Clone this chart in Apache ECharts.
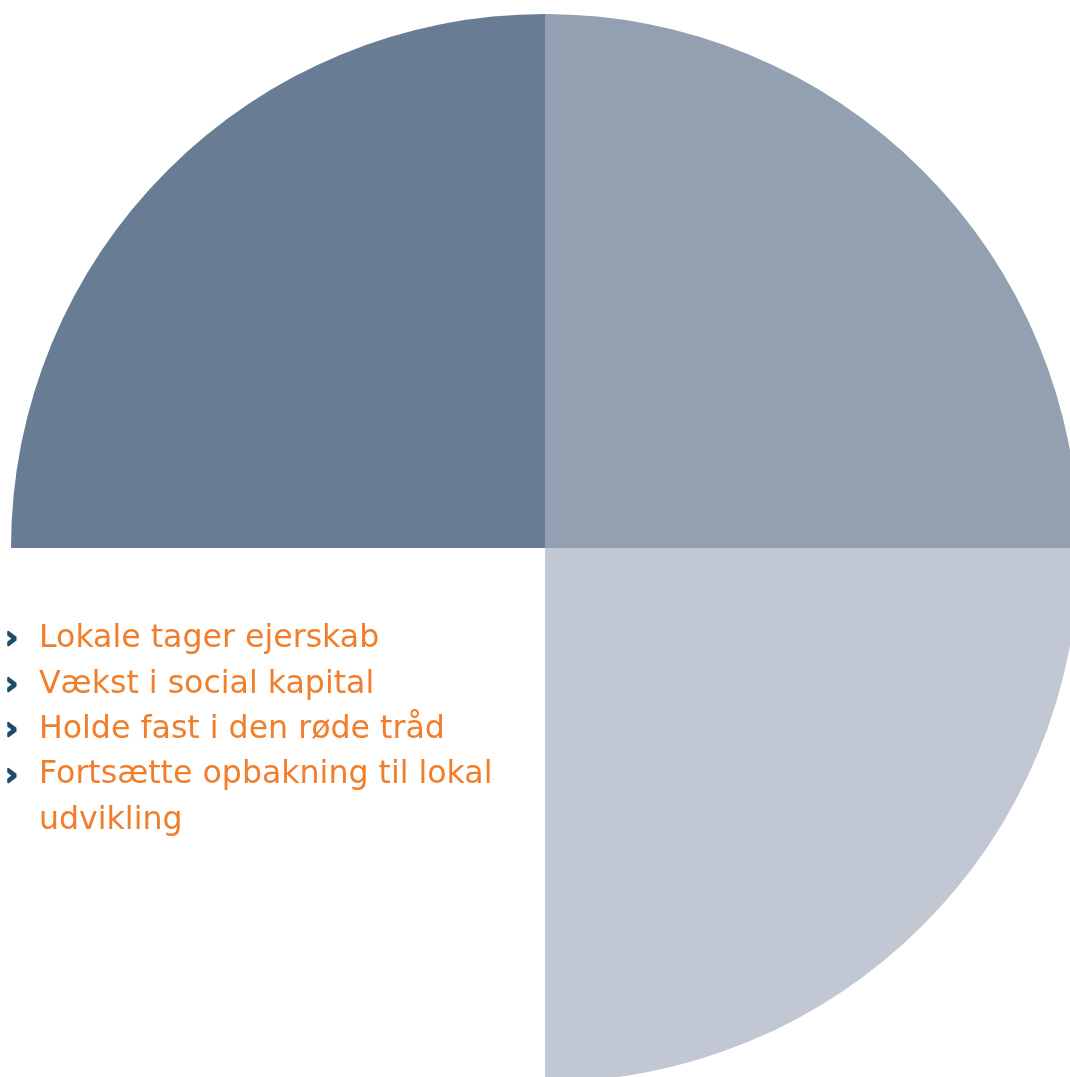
<!DOCTYPE html>
<html><head><meta charset="utf-8">
<script src="https://cdn.jsdelivr.net/npm/echarts@6/dist/echarts.min.js"></script>
<style>html,body{margin:0;padding:0;background:#fff}#c{width:1070px;height:1077px}</style>
</head><body><div id="c"></div>
<script>
const categories = ['Øverst højre', 'Nederst højre', 'Nederst venstre', 'Øverst venstre'];
const values = [25, 25, 25, 25];
const sliceColors = ['#92a0b2', '#c1c7d3', '#ffffff', '#687d94'];
const bulletLines = [
  ['Lokale tager ejerskab'],
  ['Vækst i social kapital'],
  ['Holde fast i den røde tråd'],
  ['Fortsætte opbakning til lokal', 'udvikling']
];

const chart = echarts.init(document.getElementById('c'), null, {renderer: 'canvas'});
const graphics = [];
let y = 639;
const lh = 45.4;
bulletLines.forEach(lines => {
  graphics.push({type: 'text', z: 100, x: 5, y: y + 1, style: {text: '›', fill: '#1d4d69', stroke: '#1d4d69', lineWidth: 1.6, fontSize: 32, fontWeight: 'bold', fontFamily: 'DejaVu Sans', verticalAlign: 'middle', align: 'left'}});
  lines.forEach(t => {
    graphics.push({type: 'text', z: 100, x: 39, y: y, style: {text: t, fill: '#f07e2c', fontSize: 31.6, fontFamily: 'DejaVu Sans', verticalAlign: 'middle', align: 'left'}});
    y += lh;
  });
});
chart.setOption({
  animation: false,
  series: [{
    type: 'pie',
    z: 1,
    center: [545, 548],
    radius: 534,
    startAngle: 90,
    clockwise: true,
    label: {show: false},
    labelLine: {show: false},
    emphasis: {disabled: true},
    itemStyle: {borderWidth: 0},
    data: categories.map((c, i) => ({name: c, value: values[i], itemStyle: {color: sliceColors[i]}}))
  }],
  graphic: graphics
});
</script></body></html>
